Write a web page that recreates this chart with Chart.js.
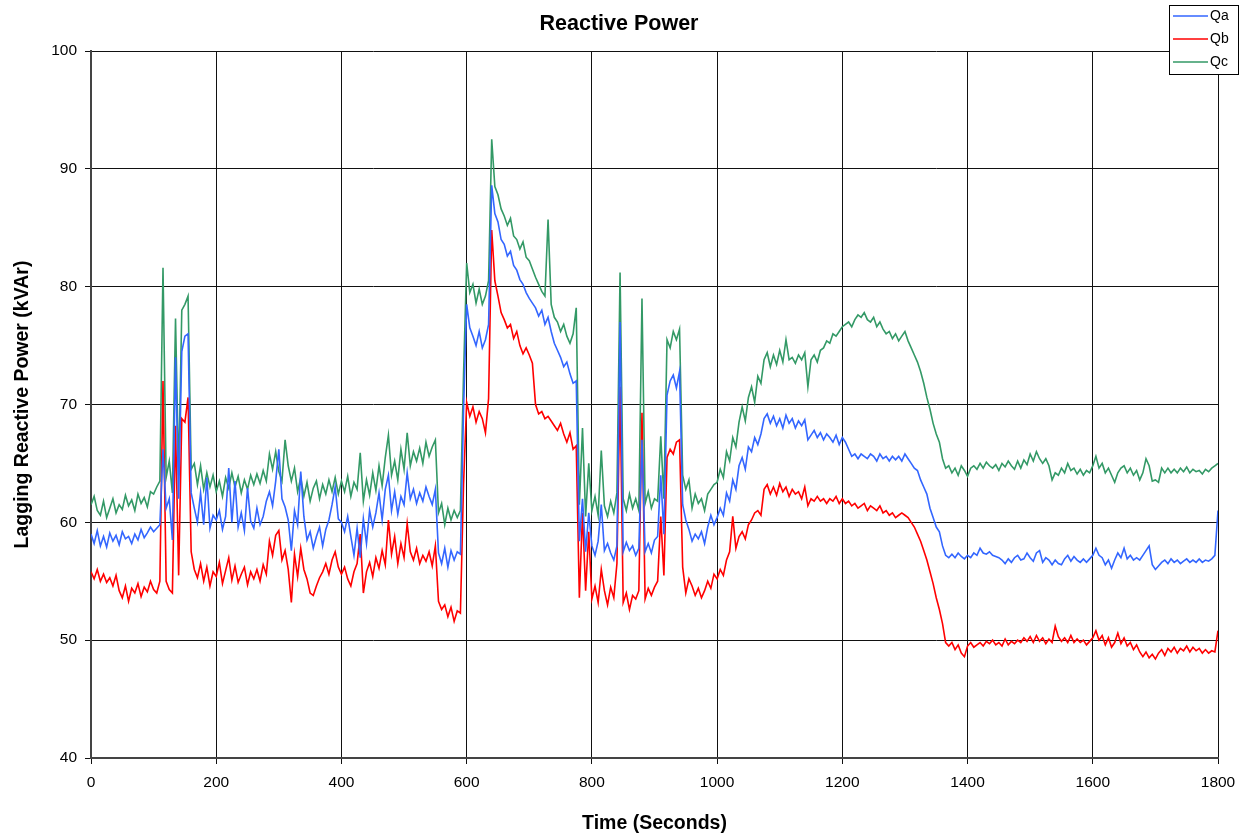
<!DOCTYPE html>
<html>
<head>
<meta charset="utf-8">
<script src="https://cdn.jsdelivr.net/npm/chart.js@4"></script>
<style>
  html, body { margin: 0; padding: 0; background: #fff; }
  #chart { display: block; }
</style>
</head>
<body>
<canvas id="chart" width="1249" height="840"></canvas>
<script>
// time axis, one sample every 5 seconds (0 .. 1800)
const times = [];
for (let t = 0; t <= 1800; t += 5) times.push(t);

// Qa (blue)
const qa = [
  59.0, 58.2, 59.3, 58.0, 58.8, 57.9, 59.1, 58.4, 58.9, 58.1, 59.2, 58.6, 58.8, 58.2, 59.0, 58.5, 59.4, 58.7, 59.1, 59.6,
  59.2, 59.5, 59.8, 66.2, 61.2, 62.0, 58.5, 74.0, 62.0, 74.5, 75.8, 76.0, 62.5, 61.2, 60.0, 62.5, 59.8, 63.8, 59.5, 60.6,
  60.2, 61.0, 59.4, 60.5, 64.6, 60.0, 63.5, 59.6, 60.8, 59.3, 62.9, 60.1, 59.5, 61.2, 59.8, 60.5, 61.8, 62.6, 61.4, 63.5,
  66.2, 62.0, 61.3, 60.2, 57.6, 61.0, 59.8, 64.3, 60.5, 58.5, 59.2, 57.8, 58.8, 59.6, 58.0, 59.4, 60.2, 61.5, 63.0, 60.3,
  60.0, 59.2, 60.5, 58.8, 57.2, 59.5, 57.0, 60.3, 58.2, 61.0, 59.6, 60.8, 62.5, 60.2, 62.8, 64.0, 61.0, 62.6, 60.7, 62.2,
  61.5, 64.2, 62.0, 62.8, 61.6, 62.5, 61.8, 63.0, 62.2, 61.5, 62.8, 57.4, 56.5, 57.8, 56.2, 57.6, 56.8, 57.5, 57.3, 69.5,
  78.5, 76.5, 75.8, 75.0, 76.2, 74.8, 75.5, 76.8, 88.6, 86.2, 85.5, 84.0, 83.6, 82.6, 83.0, 81.8, 81.4, 80.6, 80.2, 79.5,
  79.0, 78.6, 78.2, 77.5, 78.0, 76.8, 77.4, 76.2, 75.2, 74.6, 74.0, 73.2, 73.6, 72.6, 71.8, 72.0, 58.4, 62.0, 57.5, 60.8,
  58.0, 57.2, 58.4, 61.5, 57.6, 58.2, 57.4, 56.8, 58.0, 77.0, 57.5, 58.3, 57.6, 58.0, 57.2, 57.8, 67.0, 57.5, 58.2, 57.4,
  58.5, 58.8, 64.0, 59.0, 70.8, 72.0, 72.5, 71.4, 72.8, 61.5, 60.2, 59.4, 58.4, 59.0, 58.6, 59.2, 58.2, 59.6, 60.6, 59.8,
  60.4, 61.2, 60.6, 62.5, 61.8, 63.6, 62.8, 64.8, 65.5, 64.5, 66.4, 66.0, 67.2, 66.6, 67.5, 68.8, 69.2, 68.4, 69.0, 68.2,
  68.8, 68.0, 69.1, 68.4, 68.8, 68.0, 68.6, 68.2, 68.7, 67.0, 67.4, 67.8, 67.2, 67.6, 67.0, 67.5, 67.2, 66.8, 67.4, 66.6,
  67.2, 66.8, 66.2, 65.6, 65.8, 65.4, 65.8, 65.6, 65.4, 65.8, 65.6, 65.2, 65.8, 65.4, 65.6, 65.2, 65.6, 65.3, 65.6, 65.2,
  65.8, 65.4, 65.0, 64.6, 64.4, 63.6, 63.0, 62.4, 61.2, 60.4, 59.6, 59.2, 58.0, 57.2, 57.0, 57.3, 57.0, 57.4, 57.1, 56.9,
  57.2, 57.0, 57.4, 57.2, 57.8, 57.4, 57.3, 57.5, 57.2, 57.1, 57.0, 56.8, 56.5, 56.9, 56.6, 57.0, 57.2, 56.8, 56.9, 57.4,
  57.0, 56.7, 57.4, 57.6, 56.6, 57.0, 56.8, 56.4, 56.8, 56.5, 56.4, 56.9, 57.2, 56.7, 57.1, 56.8, 56.6, 56.9, 56.6, 56.9,
  57.2, 57.8, 57.2, 57.0, 56.4, 56.8, 56.1, 56.8, 57.4, 57.0, 57.8, 56.9, 57.2, 56.8, 57.0, 56.8, 57.2, 57.6, 58.0, 56.4,
  56.0, 56.3, 56.6, 56.8, 56.5, 56.9, 56.6, 56.8, 56.5, 56.7, 56.9, 56.6, 56.8, 56.6, 56.9, 56.6, 56.8, 56.7, 56.9, 57.2,
  61.0
];

// Qb (red)
const qb = [
  55.8, 55.2, 56.0, 55.0, 55.6, 54.9, 55.3, 54.6, 55.5, 54.2, 53.6, 54.6, 53.3, 54.4, 54.0, 54.8, 53.7, 54.5, 54.1, 55.0,
  54.3, 54.0, 55.0, 72.0, 55.0, 54.3, 54.0, 68.2, 55.5, 68.8, 68.5, 70.6, 57.5, 56.0, 55.3, 56.5, 55.0, 56.2, 54.6, 55.8,
  55.4, 56.6, 54.8, 55.9, 57.0, 55.1, 56.3, 54.9, 55.6, 56.2, 54.7, 55.8, 55.2, 56.0, 55.0, 56.4, 55.6, 58.4, 57.2, 58.9,
  59.3, 56.8, 57.6, 56.0, 53.2, 57.3, 55.4, 57.8, 56.0, 55.2, 54.0, 53.8, 54.6, 55.3, 55.8, 56.5, 55.6, 56.8, 57.5, 56.2,
  55.6, 56.2, 55.2, 54.6, 55.8, 56.5, 59.0, 54.0, 55.8, 56.6, 55.4, 57.0, 56.1, 57.6, 56.4, 60.2, 57.3, 58.8, 56.5, 58.2,
  57.0, 59.9, 57.5, 56.8, 57.8, 56.5, 57.2, 56.7, 57.5, 56.3, 58.0, 53.3, 52.6, 53.0, 52.0, 52.8, 51.6, 52.5, 52.3, 63.2,
  70.2, 69.0, 69.8, 68.5, 69.4, 68.8, 67.6, 70.5, 84.8, 80.5, 79.2, 77.8, 77.2, 76.5, 76.8, 75.6, 76.2, 75.0, 74.3, 74.8,
  74.2, 73.5, 70.0, 69.2, 69.4, 68.8, 69.0, 68.6, 68.2, 67.8, 68.4, 67.5, 66.8, 67.6, 66.2, 66.5, 53.6, 60.8, 54.2, 59.2,
  53.5, 54.6, 53.2, 56.0, 54.2, 53.0, 54.5, 53.6, 56.5, 71.5, 53.2, 54.0, 52.6, 53.8, 53.5, 54.2, 69.3, 53.5, 54.4, 53.8,
  54.5, 55.0, 60.5, 55.5, 65.5, 66.2, 65.8, 66.8, 67.0, 56.2, 54.0, 55.2, 54.6, 53.8, 54.4, 53.6, 54.2, 55.0, 54.4, 55.6,
  55.2, 56.0, 55.5, 56.8, 57.5, 60.5, 57.8, 58.8, 59.2, 58.6, 59.8, 60.2, 60.8, 61.0, 60.6, 62.8, 63.2, 62.4, 63.0, 62.3,
  63.3, 62.6, 63.0, 62.2, 62.8, 62.4, 62.6, 62.0, 63.0, 61.4, 62.0, 61.8, 62.2, 61.8, 62.0, 61.6, 62.0, 61.8, 62.2, 61.6,
  62.0, 61.6, 61.8, 61.4, 61.6, 61.2, 61.4, 61.6, 61.0, 61.4, 61.2, 61.0, 61.4, 60.8, 61.0, 60.6, 60.8, 60.4, 60.6, 60.8,
  60.6, 60.4, 60.0, 59.6, 59.0, 58.4, 57.6, 56.8, 55.8, 54.8, 53.6, 52.6, 51.4, 49.8, 49.5, 49.8, 49.2, 49.6, 48.9, 48.6,
  49.5, 49.8, 49.4, 49.6, 49.8, 49.5, 49.9, 49.7, 50.0, 49.6, 49.8, 49.5, 50.1, 49.6, 49.9, 49.7, 50.0, 49.8, 50.2, 49.9,
  50.3, 49.8, 50.4, 49.9, 50.2, 49.7, 50.1, 49.8, 51.2, 50.3, 49.9, 50.2, 49.8, 50.4, 49.8, 50.1, 49.8, 50.0, 49.6, 49.9,
  50.2, 50.8, 50.0, 50.4, 49.6, 50.2, 49.4, 49.8, 50.6, 49.7, 50.2, 49.5, 49.8, 49.2, 49.6, 49.0, 48.6, 49.0, 48.5, 48.8,
  48.4, 48.9, 49.2, 48.7, 49.3, 49.0, 49.4, 48.9, 49.3, 49.1, 49.5, 49.0, 49.4, 49.1, 49.3, 48.9, 49.2, 48.9, 49.1, 49.0,
  50.8
];

// Qc (green)
const qc = [
  61.5, 62.2, 61.0, 60.6, 61.8, 60.4, 61.2, 62.0, 60.8, 61.5, 61.1, 62.3, 61.4, 61.9, 61.0, 62.4, 61.6, 62.1, 61.3, 62.6,
  62.4, 63.0, 63.5, 81.6, 63.8, 65.2, 62.5, 77.3, 64.0, 78.0, 78.5, 79.2, 64.5, 65.0, 63.2, 64.8, 62.8, 64.2, 63.0, 64.0,
  62.6, 63.5, 62.2, 63.8, 62.9, 64.2, 63.0, 63.9, 62.5, 63.6, 62.8, 64.0, 63.2, 64.1, 63.3, 64.4, 63.5, 65.8, 64.5, 66.0,
  64.3, 63.5, 67.0, 64.8, 63.5, 64.6, 62.6, 63.8, 62.2, 63.4, 61.8, 62.9, 63.5, 62.0, 63.2, 62.4, 63.6, 62.6, 63.8, 62.4,
  63.5, 62.6, 63.9, 62.2, 63.4, 62.8, 65.9, 61.8, 63.6, 62.3, 64.2, 62.7, 64.8, 63.1, 65.5, 67.4, 64.0, 65.2, 63.6, 66.2,
  64.5, 67.6, 64.8, 66.0, 65.2, 66.3, 65.0, 66.8, 65.6, 66.4, 67.0, 60.8, 61.6, 59.8, 61.2, 60.2, 61.0, 60.4, 61.0, 72.5,
  82.0, 79.5, 80.2, 78.6, 79.8, 78.5, 79.2, 80.5, 92.5, 88.5, 87.8, 86.6, 86.0, 85.2, 85.8, 84.3, 84.0, 83.2, 83.8, 82.5,
  82.2, 81.5, 80.8, 80.2, 79.6, 79.2, 85.7, 78.5, 77.4, 77.0, 76.2, 76.8, 75.8, 75.2, 76.0, 78.2, 61.5, 68.0, 60.5, 65.0,
  61.0, 62.2, 60.6, 66.1, 61.4, 60.5, 61.8, 60.8, 62.5, 81.2, 62.0, 61.0, 62.4, 61.2, 62.0, 61.0, 79.0, 61.6, 62.6, 61.2,
  62.0, 61.8, 67.3, 62.0, 75.5, 74.8, 76.2, 75.5, 76.4, 64.0, 62.8, 63.6, 61.2, 62.4, 61.6, 62.0, 61.0, 62.4, 62.8, 63.2,
  63.4, 64.5, 63.8, 66.0, 65.2, 67.2, 66.4, 68.5, 69.8, 68.6, 70.6, 71.5, 70.2, 72.4, 71.8, 73.8, 74.4, 73.2, 74.2, 73.4,
  74.6, 73.6, 75.5, 73.8, 74.0, 73.5, 74.2, 73.8, 74.4, 71.5, 73.8, 74.2, 73.6, 74.6, 74.8, 75.4, 75.2, 76.0, 75.8, 76.2,
  76.6, 76.8, 77.0, 76.6, 77.2, 77.6, 77.4, 77.8, 77.2, 77.0, 77.4, 76.6, 77.0, 76.4, 76.0, 76.2, 75.6, 76.0, 75.4, 75.8,
  76.2, 75.4, 74.8, 74.2, 73.6, 72.8, 71.8, 70.6, 69.6, 68.4, 67.5, 66.8, 65.4, 64.6, 64.8, 64.2, 64.6, 64.0, 64.8, 64.4,
  63.9, 64.6, 64.8, 64.5, 65.0, 64.6, 65.1, 64.8, 64.6, 64.9, 64.4, 65.0, 64.7, 65.2, 64.8, 64.5, 65.2, 64.6, 65.3, 64.9,
  65.8, 65.2, 66.0, 65.4, 65.0, 65.4, 64.8, 63.6, 64.2, 64.0, 64.6, 64.2, 65.0, 64.4, 64.6, 64.1, 64.5, 64.0, 64.4, 64.2,
  64.8, 65.6, 64.6, 65.0, 64.2, 64.6, 64.0, 63.4, 64.2, 64.6, 64.8, 64.2, 64.6, 64.0, 64.4, 63.6, 64.2, 65.4, 64.8, 63.5,
  63.6, 63.4, 64.6, 64.2, 64.6, 64.2, 64.5, 64.2, 64.6, 64.3, 64.7, 64.2, 64.5, 64.3, 64.4, 64.1, 64.5, 64.3, 64.6, 64.8,
  65.0
];

const seriesNames = ['Qa', 'Qb', 'Qc'];
const seriesColors = ['#3366ff', '#ff0000', '#339966'];
const xTicks = [0, 200, 400, 600, 800, 1000, 1200, 1400, 1600, 1800];
const yTicks = [40, 50, 60, 70, 80, 90, 100];

const FONT = "'Liberation Sans', Arial, sans-serif";

// legend drawn as a boxed key in the top right corner
const boxLegend = {
  id: 'boxLegend',
  afterDraw(chart) {
    const ctx = chart.ctx;
    const x0 = 1169, y0 = 5, w = 69, h = 69;
    ctx.save();
    ctx.fillStyle = '#fff';
    ctx.fillRect(x0, y0, w, h);
    ctx.strokeStyle = '#000';
    ctx.lineWidth = 1;
    ctx.strokeRect(x0 + 0.5, y0 + 0.5, w, h);
    ctx.font = '14px ' + FONT;
    ctx.textBaseline = 'middle';
    ctx.fillStyle = '#000';
    chart.data.datasets.forEach((ds, i) => {
      const y = y0 + 11 + i * 23;
      ctx.strokeStyle = ds.borderColor;
      ctx.lineWidth = 1.5;
      ctx.beginPath();
      ctx.moveTo(x0 + 4, y);
      ctx.lineTo(x0 + 39, y);
      ctx.stroke();
      ctx.fillText(ds.label, x0 + 41, y);
    });
    ctx.restore();
  }
};

const datasets = [qa, qb, qc].map((vals, i) => ({
  label: seriesNames[i],
  data: times.map((t, j) => ({ x: t, y: vals[j] })),
  borderColor: seriesColors[i],
  borderWidth: 1.6,
  pointRadius: 0,
  tension: 0,
  fill: false
}));

new Chart(document.getElementById('chart'), {
  type: 'line',
  data: { datasets },
  options: {
    responsive: false,
    animation: false,
    layout: { padding: { left: 20, right: 31, top: 0, bottom: 0 } },
    plugins: {
      legend: { display: false },
      tooltip: { enabled: false },
      title: {
        display: true,
        text: 'Reactive Power',
        color: '#000',
        font: { family: FONT, size: 21.5, weight: 'bold' },
        padding: { top: 11.1, bottom: 14.1 }
      }
    },
    scales: {
      x: {
        type: 'linear',
        min: 0,
        max: 1800,
        afterBuildTicks: s => { s.ticks = xTicks.map(v => ({ value: v })); },
        afterFit: s => { s.height = 82; },
        ticks: {
          color: '#000',
          font: { family: FONT, size: 15.5 },
          padding: 9,
          maxRotation: 0,
          callback: v => String(v)
        },
        grid: { color: '#111', lineWidth: 1, tickLength: 6 },
        border: { color: '#444', width: 2 },
        title: {
          display: true,
          text: 'Time (Seconds)',
          color: '#000',
          font: { family: FONT, size: 19.5, weight: 'bold' },
          padding: { top: 0, bottom: 5 }
        }
      },
      y: {
        min: 40,
        max: 100,
        afterBuildTicks: s => { s.ticks = yTicks.map(v => ({ value: v })); },
        afterFit: s => { s.width = 71; },
        ticks: {
          color: '#000',
          font: { family: FONT, size: 15.5 },
          padding: 8,
          callback: v => String(v)
        },
        grid: { color: '#111', lineWidth: 1, tickLength: 6 },
        border: { color: '#444', width: 2 },
        title: {
          display: true,
          text: 'Lagging Reactive Power (kVAr)',
          color: '#000',
          font: { family: FONT, size: 19.5, weight: 'bold' },
          padding: { top: -9.5, bottom: 0 }
        }
      }
    }
  },
  plugins: [boxLegend]
});
</script>
</body>
</html>
